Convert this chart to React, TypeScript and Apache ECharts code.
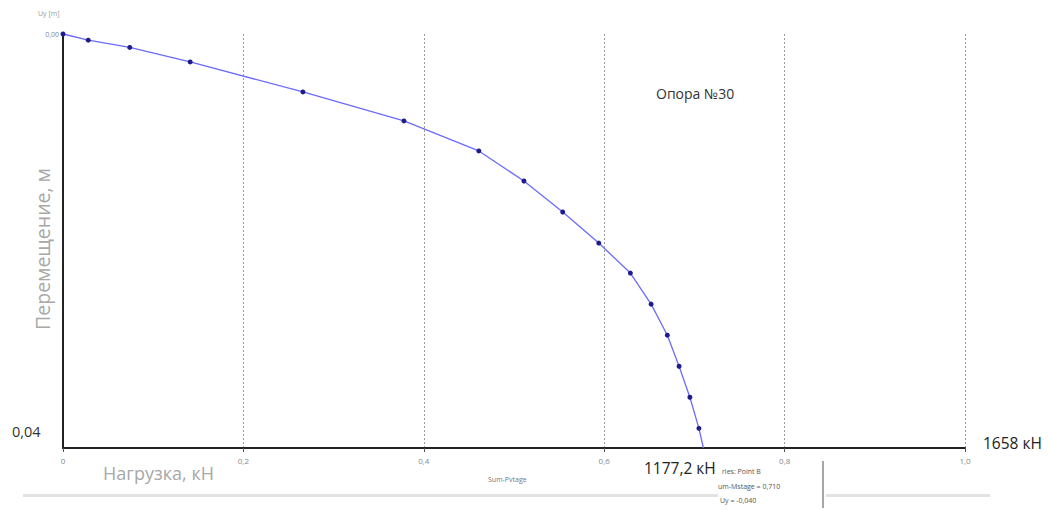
import React, { useEffect, useRef } from "react";
import * as echarts from "echarts";

// Load (x) and displacement (y) values
const loadValues = [0, 0.028, 0.074, 0.141, 0.266, 0.378, 0.461, 0.511, 0.554, 0.594, 0.629, 0.652, 0.670, 0.683, 0.695, 0.705, 0.710];
const dispValues = [0, 0.0006, 0.0013, 0.0027, 0.0056, 0.0084, 0.0113, 0.0142, 0.0172, 0.0202, 0.0231, 0.0261, 0.0291, 0.0321, 0.0351, 0.0381, 0.040];
const xTickLabels = ["0", "0,2", "0,4", "0,6", "0,8", "1,0"];
const yTopLabel = "0,00";
const yBottomLabel = "0,04";
const tooltipLines = ["ries: Point B", "um-Mstage = 0,710", "Uy = -0,040"];

export default function App() {
  const ref = useRef<HTMLDivElement>(null);
  useEffect(() => {
    if (!ref.current) return;
    const chart = echarts.init(ref.current, undefined, { renderer: "svg" });
    const data = loadValues.map((x, i) =>
      i === loadValues.length - 1
        ? { value: [x, dispValues[i]], symbolSize: 0 }
        : { value: [x, dispValues[i]] }
    );
    const font = "Open Sans, Arial, sans-serif";
    chart.setOption({
      animation: false,
      backgroundColor: "#ffffff",
      grid: { left: 63, right: 84, top: 34, bottom: 62, containLabel: false },
      xAxis: {
        type: "value",
        position: "bottom",
        min: 0,
        max: 1,
        interval: 0.2,
        axisLine: { show: true, onZero: false, lineStyle: { color: "#222", width: 2 } },
        axisTick: { show: true, length: 4, lineStyle: { color: "#555" } },
        axisLabel: {
          fontSize: 8,
          color: "#888",
          fontFamily: font,
          margin: 8,
          formatter: (v: number) => xTickLabels[Math.round(v / 0.2)] ?? "",
        },
        splitLine: { show: true, lineStyle: { type: [2, 2], color: "#9a9a9a", width: 1 } },
      },
      yAxis: {
        type: "value",
        inverse: true,
        min: 0,
        max: 0.04,
        interval: 0.04,
        axisLine: { show: true, onZero: false, lineStyle: { color: "#222", width: 2 } },
        axisTick: { show: false },
        axisLabel: {
          fontSize: 7,
          color: "#888",
          fontFamily: font,
          margin: 4,
          formatter: (v: number) => (v === 0 ? yTopLabel : ""),
        },
        splitLine: { show: false },
      },
      series: [
        {
          type: "line",
          data,
          symbol: "circle",
          symbolSize: 5,
          itemStyle: { color: "#1c1c8a" },
          lineStyle: { color: "#6b6bff", width: 1.3 },
        },
      ],
      graphic: [
        { type: "text", left: 38, top: 10, style: { text: "Uy [m]", fontSize: 7, fill: "#999", fontFamily: font } },
        { type: "text", left: 12, top: 424, style: { text: yBottomLabel, fontSize: 14.5, fill: "#333", fontFamily: font } },
        {
          type: "text",
          x: 42,
          y: 249,
          rotation: Math.PI / 2,
          style: { text: "Перемещение, м", fontSize: 19.5, fill: "#a8a8a8", fontFamily: font, align: "center", verticalAlign: "middle" },
        },
        { type: "text", left: 103, top: 464, style: { text: "Нагрузка, кН", fontSize: 18, fill: "#a8a8a8", fontFamily: font } },
        { type: "text", left: 488, top: 476, style: { text: "Sum-Pvtage", fontSize: 7, fill: "#777", fontFamily: font } },
        { type: "text", left: 644, top: 460, style: { text: "1177,2 кН", fontSize: 15.5, fill: "#222", fontFamily: font } },
        { type: "text", left: 983, top: 435, style: { text: "1658 кН", fontSize: 15.5, fill: "#222", fontFamily: font } },
        { type: "text", left: 656, top: 86, style: { text: "Опора №30", fontSize: 14, fill: "#333", fontFamily: font } },
        { type: "rect", shape: { x: 23, y: 494, width: 695, height: 3 }, style: { fill: "#e2e2e2" } },
        { type: "rect", shape: { x: 826, y: 494, width: 164, height: 3 }, style: { fill: "#e2e2e2" } },
        { type: "line", shape: { x1: 823, y1: 461, x2: 823, y2: 508 }, style: { stroke: "#888", lineWidth: 1.5 } },
        { type: "text", left: 722, top: 468, style: { text: tooltipLines[0], fontSize: 7, fill: "#555", fontFamily: font } },
        { type: "text", left: 718, top: 483, style: { text: tooltipLines[1], fontSize: 7, fill: "#555", fontFamily: font } },
        { type: "text", left: 720, top: 497, style: { text: tooltipLines[2], fontSize: 7, fill: "#555", fontFamily: font } },
      ],
    });
    return () => chart.dispose();
  }, []);
  return <div ref={ref} style={{ position: "fixed", left: 0, top: 0, width: 1049, height: 510 }} />;
}
